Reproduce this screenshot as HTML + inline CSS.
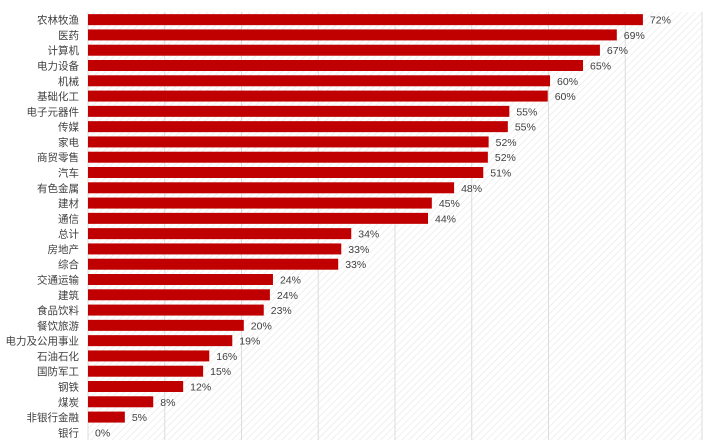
<!DOCTYPE html>
<html><head><meta charset="utf-8"><style>
body{margin:0;background:#fff;}
svg text{font-family:"Liberation Sans","Noto Sans CJK SC",sans-serif;font-size:10.5px;fill:#404040;}
</style></head><body>
<svg id="chart" width="708" height="441" xmlns="http://www.w3.org/2000/svg">
<defs><pattern id="hatch" width="5" height="5" patternUnits="userSpaceOnUse" patternTransform="rotate(45)"><rect width="5" height="5" fill="#fff"/><line x1="0" y1="0" x2="0" y2="5" stroke="#e6e6e6" stroke-width="1.2"/></pattern></defs>
<rect x="88" y="12" width="615" height="428" fill="url(#hatch)"/>
<g id="grid"></g><g id="bars"></g><g id="labels"></g>
</svg>
<script>
const categories=["农林牧渔","医药","计算机","电力设备","机械","基础化工","电子元器件","传媒","家电","商贸零售","汽车","有色金属","建材","通信","总计","房地产","综合","交通运输","建筑","食品饮料","餐饮旅游","电力及公用事业","石油石化","国防军工","钢铁","煤炭","非银行金融","银行"];
const values=[72.3,68.9,66.7,64.5,60.2,59.9,54.9,54.7,52.2,52.1,51.5,47.7,44.8,44.3,34.3,33.0,32.6,24.1,23.7,22.9,20.3,18.8,15.8,15.0,12.4,8.5,4.8,0];
const valueLabels=["72%","69%","67%","65%","60%","60%","55%","55%","52%","52%","51%","48%","45%","44%","34%","33%","33%","24%","24%","23%","20%","19%","16%","15%","12%","8%","5%","0%"];
const gridTicks=[0,10,20,30,40,50,60,70,80];
const ns="http://www.w3.org/2000/svg";
const x0=88,x1=702,xMax=80,plotTop=12,plotBottom=440;
const band=(plotBottom-plotTop)/categories.length;
const xs=v=>x0+v/xMax*(x1-x0);
const ys=i=>plotTop+i*band;
const grid=document.getElementById('grid'),bars=document.getElementById('bars'),labels=document.getElementById('labels');
gridTicks.forEach(t=>{
  const l=document.createElementNS(ns,'line');
  
  
  l.setAttribute('x1',xs(t));l.setAttribute('x2',xs(t));l.setAttribute('y1',plotTop);l.setAttribute('y2',plotBottom);
  l.setAttribute('stroke','#dcdcdc');l.setAttribute('stroke-width','1');
  grid.appendChild(l);
});
categories.forEach((c,i)=>{
  const cy=ys(i)+band/2;
  const r=document.createElementNS(ns,'rect');
  
  
  r.setAttribute('x',x0);r.setAttribute('y',cy-5.5);r.setAttribute('height',11);
  r.setAttribute('width',Math.max(0,xs(values[i])-x0));r.setAttribute('fill','#c00000');
  bars.appendChild(r);
  const t=document.createElementNS(ns,'text');
  
  
  t.setAttribute('x',79);t.setAttribute('y',cy+4);t.setAttribute('text-anchor','end');
  t.textContent=c;labels.appendChild(t);
  const v=document.createElementNS(ns,'text');
  
  
  v.setAttribute('x',xs(values[i])+7);v.setAttribute('y',cy+4);
  v.textContent=valueLabels[i];labels.appendChild(v);
});
</script>
</body></html>
